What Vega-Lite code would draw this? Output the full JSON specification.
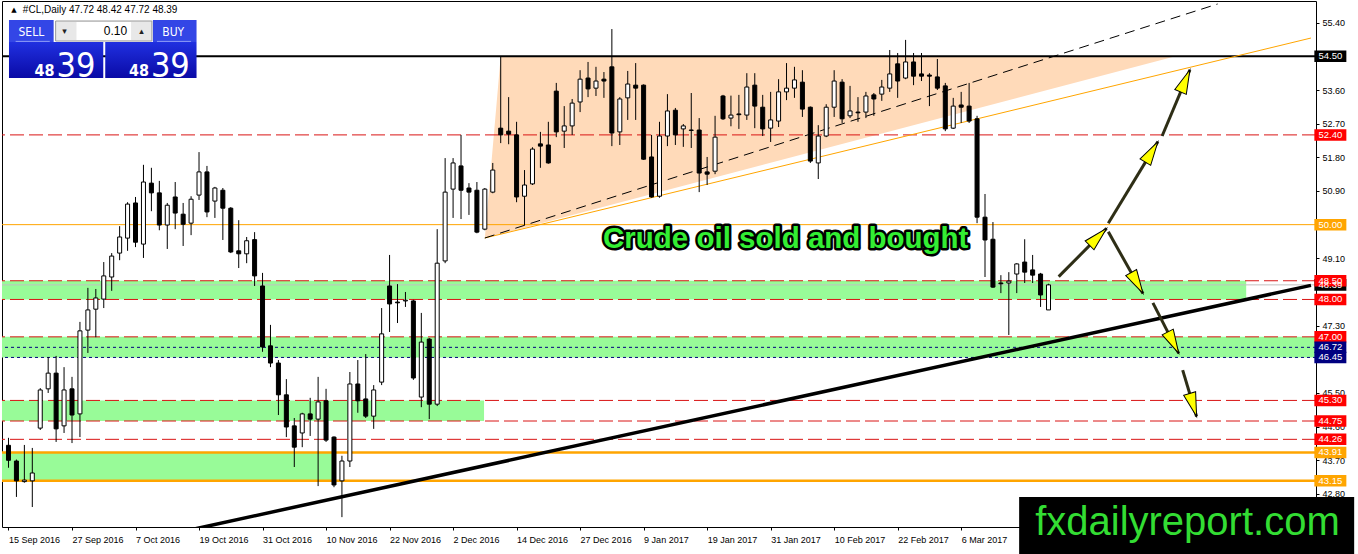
{
  "$schema": "https://vega.github.io/schema/vega-lite/v6.json",
  "width": 1314,
  "height": 526,
  "autosize": {"type": "none"},
  "padding": {"left": 2, "top": 1, "right": 42, "bottom": 27},
  "background": "#ffffff",
  "config": {
    "view": {"stroke": "#000000", "strokeWidth": 1},
    "font": "Liberation Sans"
  },
  "datasets": {
    "candles": [
      {"i":0,"o":44.10,"h":44.30,"l":43.50,"c":43.70},
      {"i":1,"o":43.68,"h":43.72,"l":42.72,"c":43.15},
      {"i":2,"o":43.13,"h":44.11,"l":43.10,"c":43.17},
      {"i":3,"o":43.15,"h":44.03,"l":42.45,"c":43.36},
      {"i":4,"o":44.56,"h":45.63,"l":44.51,"c":45.58},
      {"i":5,"o":45.61,"h":46.46,"l":45.50,"c":46.03},
      {"i":6,"o":46.03,"h":46.49,"l":44.19,"c":44.54},
      {"i":7,"o":44.62,"h":46.19,"l":44.43,"c":45.58},
      {"i":8,"o":45.61,"h":45.93,"l":44.16,"c":44.91},
      {"i":9,"o":44.94,"h":47.40,"l":44.32,"c":47.16},
      {"i":10,"o":47.18,"h":48.31,"l":46.57,"c":47.72},
      {"i":11,"o":47.74,"h":48.28,"l":46.99,"c":48.04},
      {"i":12,"o":48.01,"h":49.00,"l":47.77,"c":48.63},
      {"i":13,"o":48.60,"h":49.24,"l":48.23,"c":49.16},
      {"i":14,"o":49.24,"h":49.96,"l":49.05,"c":49.67},
      {"i":15,"o":49.64,"h":50.60,"l":49.30,"c":50.55},
      {"i":16,"o":50.58,"h":50.74,"l":49.40,"c":49.53},
      {"i":17,"o":49.48,"h":51.60,"l":49.11,"c":51.14},
      {"i":18,"o":51.11,"h":51.52,"l":50.36,"c":50.85},
      {"i":19,"o":50.85,"h":51.17,"l":49.85,"c":49.99},
      {"i":20,"o":49.99,"h":50.58,"l":49.35,"c":50.52},
      {"i":21,"o":50.74,"h":51.14,"l":49.88,"c":50.31},
      {"i":22,"o":50.28,"h":50.58,"l":49.43,"c":50.01},
      {"i":23,"o":50.04,"h":50.76,"l":49.72,"c":50.68},
      {"i":24,"o":50.79,"h":51.94,"l":50.66,"c":51.41},
      {"i":25,"o":51.41,"h":51.57,"l":50.20,"c":50.34},
      {"i":26,"o":50.63,"h":51.01,"l":50.18,"c":50.98},
      {"i":27,"o":50.92,"h":50.98,"l":49.59,"c":50.44},
      {"i":28,"o":50.44,"h":50.47,"l":49.24,"c":49.27},
      {"i":29,"o":49.30,"h":50.12,"l":48.84,"c":49.22},
      {"i":30,"o":49.22,"h":49.67,"l":48.97,"c":49.57},
      {"i":31,"o":49.60,"h":49.80,"l":48.36,"c":48.63},
      {"i":32,"o":48.36,"h":48.71,"l":46.60,"c":46.73},
      {"i":33,"o":46.76,"h":47.32,"l":46.19,"c":46.30},
      {"i":34,"o":46.30,"h":46.38,"l":44.91,"c":45.45},
      {"i":35,"o":45.45,"h":45.87,"l":44.32,"c":44.59},
      {"i":36,"o":44.62,"h":44.83,"l":43.52,"c":44.05},
      {"i":37,"o":44.43,"h":44.97,"l":44.05,"c":44.94},
      {"i":38,"o":44.94,"h":45.37,"l":44.35,"c":44.80},
      {"i":39,"o":44.80,"h":45.93,"l":43.01,"c":45.26},
      {"i":40,"o":45.29,"h":45.61,"l":44.19,"c":44.24},
      {"i":41,"o":44.32,"h":44.34,"l":42.98,"c":43.04},
      {"i":42,"o":43.15,"h":43.82,"l":42.18,"c":43.68},
      {"i":43,"o":43.68,"h":46.06,"l":43.52,"c":45.74},
      {"i":44,"o":45.74,"h":46.38,"l":44.97,"c":45.29},
      {"i":45,"o":45.34,"h":46.54,"l":44.83,"c":44.88},
      {"i":46,"o":44.88,"h":45.71,"l":44.54,"c":45.58},
      {"i":47,"o":45.79,"h":47.77,"l":45.71,"c":47.08},
      {"i":48,"o":48.36,"h":49.19,"l":47.13,"c":47.88},
      {"i":49,"o":47.93,"h":48.41,"l":47.37,"c":47.91},
      {"i":50,"o":47.96,"h":48.20,"l":47.80,"c":47.98},
      {"i":51,"o":47.96,"h":47.99,"l":45.85,"c":45.90},
      {"i":52,"o":45.39,"h":47.64,"l":45.12,"c":46.86},
      {"i":53,"o":46.94,"h":46.97,"l":44.80,"c":45.20},
      {"i":54,"o":45.20,"h":49.88,"l":45.15,"c":48.97},
      {"i":55,"o":49.03,"h":51.78,"l":48.97,"c":50.87},
      {"i":56,"o":50.95,"h":51.78,"l":50.18,"c":51.65},
      {"i":57,"o":51.57,"h":52.40,"l":50.15,"c":50.92},
      {"i":58,"o":50.98,"h":51.11,"l":50.26,"c":50.87},
      {"i":59,"o":50.92,"h":51.14,"l":49.77,"c":49.80},
      {"i":60,"o":49.88,"h":50.98,"l":49.85,"c":50.95},
      {"i":61,"o":50.87,"h":51.65,"l":50.84,"c":51.46},
      {"i":62,"o":52.58,"h":54.50,"l":52.18,"c":52.40},
      {"i":63,"o":52.50,"h":53.41,"l":52.15,"c":52.42},
      {"i":64,"o":52.40,"h":52.75,"l":50.60,"c":50.74},
      {"i":65,"o":50.76,"h":51.46,"l":49.99,"c":51.06},
      {"i":66,"o":51.09,"h":52.07,"l":51.06,"c":52.02},
      {"i":67,"o":52.16,"h":52.48,"l":51.52,"c":52.10},
      {"i":68,"o":52.13,"h":52.75,"l":51.63,"c":51.65},
      {"i":69,"o":53.57,"h":53.79,"l":52.34,"c":52.48},
      {"i":70,"o":52.50,"h":53.17,"l":52.05,"c":52.64},
      {"i":71,"o":52.64,"h":53.36,"l":52.40,"c":53.25},
      {"i":72,"o":53.28,"h":54.13,"l":53.01,"c":53.89},
      {"i":73,"o":53.92,"h":54.35,"l":53.41,"c":53.63},
      {"i":74,"o":53.65,"h":54.22,"l":53.44,"c":53.84},
      {"i":75,"o":53.89,"h":54.08,"l":53.39,"c":53.84},
      {"i":76,"o":54.22,"h":55.23,"l":52.10,"c":52.45},
      {"i":77,"o":52.48,"h":53.41,"l":52.13,"c":53.36},
      {"i":78,"o":53.39,"h":54.11,"l":52.80,"c":53.76},
      {"i":79,"o":53.73,"h":54.32,"l":52.80,"c":53.65},
      {"i":80,"o":53.73,"h":53.75,"l":51.73,"c":51.75},
      {"i":81,"o":51.81,"h":52.40,"l":50.72,"c":50.74},
      {"i":82,"o":50.76,"h":52.75,"l":50.72,"c":52.37},
      {"i":83,"o":52.37,"h":53.49,"l":52.10,"c":53.04},
      {"i":84,"o":53.06,"h":53.12,"l":52.13,"c":52.40},
      {"i":85,"o":52.56,"h":52.69,"l":52.08,"c":52.64},
      {"i":86,"o":52.53,"h":53.52,"l":52.05,"c":52.52},
      {"i":87,"o":52.53,"h":52.85,"l":50.87,"c":51.38},
      {"i":88,"o":51.41,"h":51.81,"l":51.06,"c":51.35},
      {"i":89,"o":51.43,"h":52.91,"l":51.35,"c":52.34},
      {"i":90,"o":53.44,"h":53.47,"l":52.80,"c":52.83},
      {"i":91,"o":52.85,"h":53.45,"l":52.63,"c":52.93},
      {"i":92,"o":52.96,"h":53.47,"l":52.56,"c":52.94},
      {"i":93,"o":52.93,"h":54.05,"l":52.80,"c":53.68},
      {"i":94,"o":53.73,"h":54.05,"l":52.58,"c":53.17},
      {"i":95,"o":53.14,"h":53.47,"l":52.37,"c":52.56},
      {"i":96,"o":52.58,"h":53.55,"l":52.21,"c":52.80},
      {"i":97,"o":52.77,"h":53.89,"l":52.61,"c":53.55},
      {"i":98,"o":53.55,"h":54.32,"l":53.33,"c":53.65},
      {"i":99,"o":53.65,"h":54.22,"l":53.39,"c":53.87},
      {"i":100,"o":53.81,"h":54.13,"l":52.88,"c":53.09},
      {"i":101,"o":53.14,"h":53.16,"l":51.65,"c":51.70},
      {"i":102,"o":51.65,"h":52.66,"l":51.22,"c":52.37},
      {"i":103,"o":52.37,"h":53.22,"l":52.34,"c":53.14},
      {"i":104,"o":53.14,"h":54.13,"l":52.88,"c":53.84},
      {"i":105,"o":53.81,"h":53.89,"l":52.72,"c":52.83},
      {"i":106,"o":52.91,"h":53.71,"l":52.85,"c":53.04},
      {"i":107,"o":53.01,"h":53.41,"l":52.75,"c":52.99},
      {"i":108,"o":53.01,"h":53.55,"l":52.85,"c":53.44},
      {"i":109,"o":53.47,"h":53.52,"l":52.91,"c":53.36},
      {"i":110,"o":53.49,"h":53.87,"l":53.31,"c":53.68},
      {"i":111,"o":53.65,"h":54.67,"l":53.55,"c":54.03},
      {"i":112,"o":54.30,"h":54.59,"l":53.39,"c":53.84},
      {"i":113,"o":53.92,"h":54.94,"l":53.89,"c":54.35},
      {"i":114,"o":54.35,"h":54.59,"l":53.73,"c":53.97},
      {"i":115,"o":54.03,"h":54.59,"l":53.84,"c":53.97},
      {"i":116,"o":54.00,"h":54.05,"l":53.17,"c":53.97},
      {"i":117,"o":53.95,"h":54.43,"l":53.60,"c":53.65},
      {"i":118,"o":53.71,"h":53.79,"l":52.50,"c":52.56},
      {"i":119,"o":52.58,"h":53.39,"l":52.56,"c":53.17},
      {"i":120,"o":53.20,"h":53.55,"l":52.72,"c":53.14},
      {"i":121,"o":53.17,"h":53.79,"l":52.72,"c":52.77},
      {"i":122,"o":52.83,"h":52.91,"l":50.04,"c":50.20},
      {"i":123,"o":50.20,"h":50.82,"l":48.60,"c":49.59},
      {"i":124,"o":49.61,"h":50.07,"l":48.31,"c":48.33},
      {"i":125,"o":48.44,"h":48.65,"l":48.17,"c":48.42},
      {"i":126,"o":48.44,"h":48.73,"l":47.05,"c":48.49},
      {"i":127,"o":48.68,"h":48.97,"l":48.17,"c":48.95},
      {"i":128,"o":49.00,"h":49.61,"l":48.44,"c":48.73},
      {"i":129,"o":48.79,"h":49.19,"l":48.44,"c":48.65},
      {"i":130,"o":48.68,"h":48.71,"l":47.80,"c":48.12},
      {"i":131,"o":47.72,"h":48.42,"l":47.72,"c":48.39}
    ],
    "levels": [
      {"p":48.39,"kind":"bid"},
      {"p":54.50,"kind":"major"},
      {"p":52.40,"kind":"zone"},
      {"p":50.00,"kind":"pivot"},
      {"p":48.50,"kind":"zone"},
      {"p":48.00,"kind":"zone"},
      {"p":47.00,"kind":"zone"},
      {"p":46.72,"kind":"inner"},
      {"p":46.45,"kind":"inner"},
      {"p":45.30,"kind":"zone"},
      {"p":44.75,"kind":"zone"},
      {"p":44.26,"kind":"zone"},
      {"p":43.91,"kind":"base"},
      {"p":43.15,"kind":"base"}
    ],
    "zones": [
      {"i0":-1,"i1":155.9,"lo":48.00,"hi":48.50},
      {"i0":-1,"i1":170,"lo":46.45,"hi":47.00},
      {"i0":-1,"i1":59.9,"lo":44.75,"hi":45.30},
      {"i0":-1,"i1":40.8,"lo":43.15,"hi":43.91}
    ],
    "triangle": [
      {"i":60,"top":49.643,"bot":49.643},
      {"i":62,"top":54.50,"bot":49.755},
      {"i":147,"top":54.50,"bot":54.50}
    ],
    "trends": [
      {"kind":"support","i0":21.44,"p0":41.772,"i1":164.06,"p1":48.376},
      {"kind":"channel","i0":60,"p0":49.643,"i1":164.06,"p1":54.99},
      {"kind":"median","i0":60,"p0":49.643,"i1":152.3,"p1":55.90}
    ],
    "arrows": [
      {"i0":132.28,"p0":48.61,"i1":138.31,"p1":49.90},
      {"i0":138.53,"p0":50.04,"i1":144.78,"p1":52.22},
      {"i0":145.31,"p0":52.37,"i1":148.81,"p1":54.14},
      {"i0":138.53,"p0":49.81,"i1":142.90,"p1":48.16},
      {"i0":144.15,"p0":47.91,"i1":147.40,"p1":46.56},
      {"i0":147.90,"p0":46.11,"i1":149.65,"p1":44.87}
    ]
  },
  "layer": [
    {
      "data": {"name": "zones"},
      "mark": {"type": "rect", "fill": "#98fb98", "clip": true},
      "encoding": {
        "x": {"field": "i0", "type": "quantitative", "scale": {"domain": [-0.1875, 164.0625], "nice": false, "zero": false}},
        "x2": {"field": "i1"},
        "y": {"field": "lo", "type": "quantitative", "scale": {"domain": [41.916, 55.98], "nice": false, "zero": false}},
        "y2": {"field": "hi"}
      }
    },
    {
      "data": {"name": "triangle"},
      "mark": {"type": "area", "fill": "#ffdab9", "orient": "vertical", "clip": true},
      "encoding": {
        "x": {"field": "i", "type": "quantitative"},
        "y": {"field": "top", "type": "quantitative"},
        "y2": {"field": "bot"}
      }
    },
    {
      "data": {"name": "levels"},
      "transform": [{"filter": "datum.kind == 'bid'"}],
      "mark": {"type": "rule", "stroke": "#c0c0c0", "strokeWidth": 1},
      "encoding": {"y": {"field": "p", "type": "quantitative"}}
    },
    {
      "data": {"name": "levels"},
      "transform": [{"filter": "datum.kind == 'zone'"}],
      "mark": {"type": "rule", "stroke": "#d91414", "strokeWidth": 1, "strokeDash": [14, 5]},
      "encoding": {"y": {"field": "p", "type": "quantitative"}}
    },
    {
      "data": {"name": "levels"},
      "transform": [{"filter": "datum.kind == 'inner'"}],
      "mark": {"type": "rule", "stroke": "#000080", "strokeWidth": 1, "strokeDash": [3, 3]},
      "encoding": {"y": {"field": "p", "type": "quantitative"}}
    },
    {
      "data": {"name": "levels"},
      "transform": [{"filter": "datum.kind == 'pivot'"}],
      "mark": {"type": "rule", "stroke": "#ffa500", "strokeWidth": 1},
      "encoding": {"y": {"field": "p", "type": "quantitative"}}
    },
    {
      "data": {"name": "levels"},
      "transform": [{"filter": "datum.kind == 'base'"}],
      "mark": {"type": "rule", "stroke": "#ffa500", "strokeWidth": 2.5},
      "encoding": {"y": {"field": "p", "type": "quantitative"}}
    },
    {
      "data": {"name": "levels"},
      "transform": [{"filter": "datum.kind == 'major'"}],
      "mark": {"type": "rule", "stroke": "#000000", "strokeWidth": 2},
      "encoding": {"y": {"field": "p", "type": "quantitative"}}
    },
    {
      "data": {"name": "trends"},
      "transform": [{"filter": "datum.kind == 'channel'"}],
      "mark": {"type": "rule", "stroke": "#ffa500", "strokeWidth": 1, "clip": true},
      "encoding": {
        "x": {"field": "i0", "type": "quantitative"},
        "x2": {"field": "i1"},
        "y": {"field": "p0", "type": "quantitative"},
        "y2": {"field": "p1"}
      }
    },
    {
      "data": {"name": "trends"},
      "transform": [{"filter": "datum.kind == 'median'"}],
      "mark": {"type": "rule", "stroke": "#000000", "strokeWidth": 1, "strokeDash": [10, 6], "clip": true},
      "encoding": {
        "x": {"field": "i0", "type": "quantitative"},
        "x2": {"field": "i1"},
        "y": {"field": "p0", "type": "quantitative"},
        "y2": {"field": "p1"}
      }
    },
    {
      "data": {"name": "candles"},
      "mark": {"type": "rule", "stroke": "#000000", "strokeWidth": 1},
      "encoding": {
        "x": {"field": "i", "type": "quantitative", "scale": {"domain": [-0.1875, 164.0625], "nice": false, "zero": false},
          "axis": {"orient": "bottom", "values": [0, 8, 16, 24, 32, 40, 48, 56, 64, 72, 80, 88, 96, 104, 112, 120],
            "labelExpr": "['15 Sep 2016','27 Sep 2016','7 Oct 2016','19 Oct 2016','31 Oct 2016','10 Nov 2016','22 Nov 2016','2 Dec 2016','14 Dec 2016','27 Dec 2016','9 Jan 2017','19 Jan 2017','31 Jan 2017','10 Feb 2017','22 Feb 2017','6 Mar 2017'][datum.value / 8]",
            "labelAlign": "left", "labelFont": "Liberation Sans", "labelFontSize": 9, "labelColor": "#000000",
            "tickSize": 3, "tickColor": "#000000", "labelPadding": 5, "domain": false, "grid": false, "title": null,
            "labelOverlap": false, "labelFlush": false}},
        "y": {"field": "l", "type": "quantitative", "scale": {"domain": [41.916, 55.98], "nice": false, "zero": false},
          "axis": {"orient": "right", "values": [42.8, 43.7, 44.6, 45.5, 47.3, 49.1, 50.9, 51.8, 52.7, 53.6, 55.4],
            "format": ".2f", "labelFont": "Liberation Sans", "labelFontSize": 9, "labelColor": "#000000",
            "tickSize": 3, "tickColor": "#000000", "labelPadding": 3, "domain": false, "grid": false, "title": null,
            "labelOverlap": false, "labelFlush": false}},
        "y2": {"field": "h"}
      }
    },
    {
      "data": {"name": "candles"},
      "mark": {"type": "bar", "size": 4, "stroke": "#000000", "strokeWidth": 1},
      "encoding": {
        "x": {"field": "i", "type": "quantitative"},
        "y": {"field": "o", "type": "quantitative"},
        "y2": {"field": "c"},
        "fill": {"condition": {"test": "datum.c >= datum.o", "value": "#ffffff"}, "value": "#000000"}
      }
    },
    {
      "data": {"name": "trends"},
      "transform": [{"filter": "datum.kind == 'support'"}],
      "mark": {"type": "rule", "stroke": "#000000", "strokeWidth": 3.5, "clip": true},
      "encoding": {
        "x": {"field": "i0", "type": "quantitative"},
        "x2": {"field": "i1"},
        "y": {"field": "p0", "type": "quantitative"},
        "y2": {"field": "p1"}
      }
    },
    {
      "data": {"name": "arrows"},
      "mark": {"type": "rule", "stroke": "#2e2e16", "strokeWidth": 3},
      "encoding": {
        "x": {"field": "i0", "type": "quantitative"},
        "x2": {"field": "i1"},
        "y": {"field": "p0", "type": "quantitative"},
        "y2": {"field": "p1"}
      }
    },
    {
      "data": {"name": "arrows"},
      "transform": [{"calculate": "atan2((datum.i1 - datum.i0) * 8, (datum.p1 - datum.p0) * 37.4) * 180 / PI", "as": "heading"}],
      "mark": {"type": "point", "shape": "M0,0L0.26,1L-0.26,1Z", "size": 2304, "filled": true, "fill": "#ffff00", "stroke": "#000000", "strokeWidth": 1, "opacity": 1},
      "encoding": {
        "x": {"field": "i1", "type": "quantitative"},
        "y": {"field": "p1", "type": "quantitative"},
        "angle": {"field": "heading", "type": "quantitative", "scale": null}
      }
    },
    {
      "data": {"values": [{}]},
      "mark": {"type": "text", "text": "Crude oil sold and bought", "font": "Liberation Sans", "fontWeight": "bold", "fontSize": 29.5,
        "align": "center", "baseline": "middle", "fill": "#000000", "stroke": "#000000", "strokeWidth": 5, "strokeJoin": "round"},
      "encoding": {
        "x": {"datum": 97.9, "type": "quantitative"},
        "y": {"datum": 49.62, "type": "quantitative"}
      }
    },
    {
      "data": {"values": [{}]},
      "mark": {"type": "text", "text": "Crude oil sold and bought", "font": "Liberation Sans", "fontWeight": "bold", "fontSize": 29.5,
        "align": "center", "baseline": "middle", "fill": "#33ee33"},
      "encoding": {
        "x": {"datum": 97.9, "type": "quantitative"},
        "y": {"datum": 49.62, "type": "quantitative"}
      }
    },
    {
      "data": {"name": "levels"},
      "mark": {"type": "point", "shape": "M-1,-0.36H1V0.36H-1Z", "size": 1024, "filled": true, "strokeWidth": 0, "opacity": 1},
      "encoding": {
        "x": {"datum": 166.5, "type": "quantitative"},
        "y": {"field": "p", "type": "quantitative"},
        "fill": {"field": "kind", "type": "nominal", "legend": null,
          "scale": {"domain": ["bid", "major", "zone", "pivot", "inner", "base"], "range": ["#000000", "#000000", "#ff0000", "#ffa500", "#000080", "#ffa500"]}}
      }
    },
    {
      "data": {"name": "levels"},
      "mark": {"type": "text", "font": "Liberation Sans", "fontSize": 9.5, "align": "center", "baseline": "middle", "fill": "#ffffff"},
      "encoding": {
        "x": {"datum": 166.5, "type": "quantitative"},
        "y": {"field": "p", "type": "quantitative"},
        "text": {"field": "p", "type": "quantitative", "format": ".2f"}
      }
    },
    {
      "data": {"values": [{}]},
      "mark": {"type": "rect", "fill": "#000000"},
      "encoding": {
        "x": {"datum": 127.3, "type": "quantitative"},
        "x2": {"datum": 169.5},
        "y": {"datum": 42.718, "type": "quantitative"},
        "y2": {"datum": 41.10}
      }
    },
    {
      "data": {"values": [{}]},
      "mark": {"type": "text", "text": "fxdailyreport.com", "font": "Liberation Sans", "fontSize": 40, "align": "center", "baseline": "alphabetic", "fill": "#33dd33"},
      "encoding": {
        "x": {"datum": 148.5, "type": "quantitative"},
        "y": {"datum": 41.70, "type": "quantitative"}
      }
    },
    {
      "data": {"values": [{}]},
      "mark": {"type": "rect", "fill": {"gradient": "linear", "x1": 0, "y1": 0, "x2": 0, "y2": 1, "stops": [{"offset": 0, "color": "#2030e0"}, {"offset": 1, "color": "#0a0aa6"}]}},
      "encoding": {
        "x": {"datum": 0.0625, "type": "quantitative"},
        "x2": {"datum": 11.9375},
        "y": {"datum": 54.884, "type": "quantitative"},
        "y2": {"datum": 53.921}
      }
    },
    {
      "data": {"values": [{}]},
      "mark": {"type": "rect", "fill": {"gradient": "linear", "x1": 0, "y1": 0, "x2": 0, "y2": 1, "stops": [{"offset": 0, "color": "#2030e0"}, {"offset": 1, "color": "#0a0aa6"}]}},
      "encoding": {
        "x": {"datum": 12.1875, "type": "quantitative"},
        "x2": {"datum": 23.6875},
        "y": {"datum": 54.884, "type": "quantitative"},
        "y2": {"datum": 53.921}
      }
    },
    {
      "data": {"values": [{}]},
      "mark": {"type": "rect", "fill": "#3346e6"},
      "encoding": {
        "x": {"datum": 0.0625, "type": "quantitative"},
        "x2": {"datum": 5.6875},
        "y": {"datum": 55.472, "type": "quantitative"},
        "y2": {"datum": 54.884}
      }
    },
    {
      "data": {"values": [{}]},
      "mark": {"type": "rect", "fill": "#3346e6"},
      "encoding": {
        "x": {"datum": 18.1875, "type": "quantitative"},
        "x2": {"datum": 23.6875},
        "y": {"datum": 55.472, "type": "quantitative"},
        "y2": {"datum": 54.884}
      }
    },
    {
      "data": {"values": [{}]},
      "mark": {"type": "rule", "stroke": "#8f9cf5", "strokeWidth": 1},
      "encoding": {
        "x": {"datum": 0.9, "type": "quantitative"},
        "x2": {"datum": 5.2},
        "y": {"datum": 54.90, "type": "quantitative"},
        "y2": {"datum": 54.90}
      }
    },
    {
      "data": {"values": [{}]},
      "mark": {"type": "rule", "stroke": "#8f9cf5", "strokeWidth": 1},
      "encoding": {
        "x": {"datum": 18.7, "type": "quantitative"},
        "x2": {"datum": 23.0},
        "y": {"datum": 54.90, "type": "quantitative"},
        "y2": {"datum": 54.90}
      }
    },
    {
      "data": {"values": [{}]},
      "mark": {"type": "rect", "fill": "#e8e8e8", "stroke": "#9a9a9a", "strokeWidth": 1},
      "encoding": {
        "x": {"datum": 5.9375, "type": "quantitative"},
        "x2": {"datum": 18.0625},
        "y": {"datum": 55.445, "type": "quantitative"},
        "y2": {"datum": 54.910}
      }
    },
    {
      "data": {"values": [{}]},
      "mark": {"type": "rect", "fill": "#ffffff"},
      "encoding": {
        "x": {"datum": 8.5625, "type": "quantitative"},
        "x2": {"datum": 15.4375},
        "y": {"datum": 55.42, "type": "quantitative"},
        "y2": {"datum": 54.935}
      }
    },
    {
      "data": {"values": [{}]},
      "mark": {"type": "text", "text": "SELL", "font": "Liberation Sans Narrow, DejaVu Sans Condensed, Roboto, sans-serif", "fontSize": 12, "align": "center", "baseline": "middle", "fill": "#ffffff"},
      "encoding": {
        "x": {"datum": 2.875, "type": "quantitative"},
        "y": {"datum": 55.151, "type": "quantitative"}
      }
    },
    {
      "data": {"values": [{}]},
      "mark": {"type": "text", "text": "BUY", "font": "Liberation Sans Narrow, DejaVu Sans Condensed, Roboto, sans-serif", "fontSize": 12, "align": "center", "baseline": "middle", "fill": "#ffffff"},
      "encoding": {
        "x": {"datum": 20.75, "type": "quantitative"},
        "y": {"datum": 55.151, "type": "quantitative"}
      }
    },
    {
      "data": {"values": [{}]},
      "mark": {"type": "text", "text": "0.10", "font": "Liberation Sans", "fontSize": 12, "align": "right", "baseline": "middle", "fill": "#000000"},
      "encoding": {
        "x": {"datum": 14.94, "type": "quantitative"},
        "y": {"datum": 55.178, "type": "quantitative"}
      }
    },
    {
      "data": {"values": [{}]},
      "mark": {"type": "text", "text": "▾", "font": "DejaVu Sans", "fontSize": 9, "align": "center", "baseline": "middle", "fill": "#222222"},
      "encoding": {
        "x": {"datum": 7.06, "type": "quantitative"},
        "y": {"datum": 55.178, "type": "quantitative"}
      }
    },
    {
      "data": {"values": [{}]},
      "mark": {"type": "text", "text": "▴", "font": "DejaVu Sans", "fontSize": 9, "align": "center", "baseline": "middle", "fill": "#222222"},
      "encoding": {
        "x": {"datum": 16.75, "type": "quantitative"},
        "y": {"datum": 55.178, "type": "quantitative"}
      }
    },
    {
      "data": {"values": [{}]},
      "mark": {"type": "text", "text": "48", "font": "Liberation Sans Narrow, DejaVu Sans Condensed, Roboto, sans-serif", "fontWeight": "bold", "fontSize": 16, "align": "right", "baseline": "alphabetic", "fill": "#ffffff"},
      "encoding": {
        "x": {"datum": 5.8125, "type": "quantitative"},
        "y": {"datum": 53.975, "type": "quantitative"}
      }
    },
    {
      "data": {"values": [{}]},
      "mark": {"type": "text", "text": "39", "font": "Liberation Sans Narrow, DejaVu Sans Condensed, Roboto, sans-serif", "fontSize": 34, "align": "left", "baseline": "alphabetic", "fill": "#ffffff"},
      "encoding": {
        "x": {"datum": 6.0625, "type": "quantitative"},
        "y": {"datum": 53.948, "type": "quantitative"}
      }
    },
    {
      "data": {"values": [{}]},
      "mark": {"type": "text", "text": "48", "font": "Liberation Sans Narrow, DejaVu Sans Condensed, Roboto, sans-serif", "fontWeight": "bold", "fontSize": 16, "align": "right", "baseline": "alphabetic", "fill": "#ffffff"},
      "encoding": {
        "x": {"datum": 17.69, "type": "quantitative"},
        "y": {"datum": 53.975, "type": "quantitative"}
      }
    },
    {
      "data": {"values": [{}]},
      "mark": {"type": "text", "text": "39", "font": "Liberation Sans Narrow, DejaVu Sans Condensed, Roboto, sans-serif", "fontSize": 34, "align": "left", "baseline": "alphabetic", "fill": "#ffffff"},
      "encoding": {
        "x": {"datum": 17.94, "type": "quantitative"},
        "y": {"datum": 53.948, "type": "quantitative"}
      }
    },
    {
      "data": {"values": [{}]},
      "mark": {"type": "text", "text": "▲", "font": "DejaVu Sans", "fontSize": 7, "align": "center", "baseline": "middle", "fill": "#000000"},
      "encoding": {
        "x": {"datum": 0.69, "type": "quantitative"},
        "y": {"datum": 55.74, "type": "quantitative"}
      }
    },
    {
      "data": {"values": [{}]},
      "mark": {"type": "text", "text": "#CL,Daily  47.72 48.42 47.72 48.39", "font": "Liberation Sans", "fontSize": 10, "align": "left", "baseline": "middle", "fill": "#000000"},
      "encoding": {
        "x": {"datum": 1.81, "type": "quantitative"},
        "y": {"datum": 55.74, "type": "quantitative"}
      }
    }
  ]
}
